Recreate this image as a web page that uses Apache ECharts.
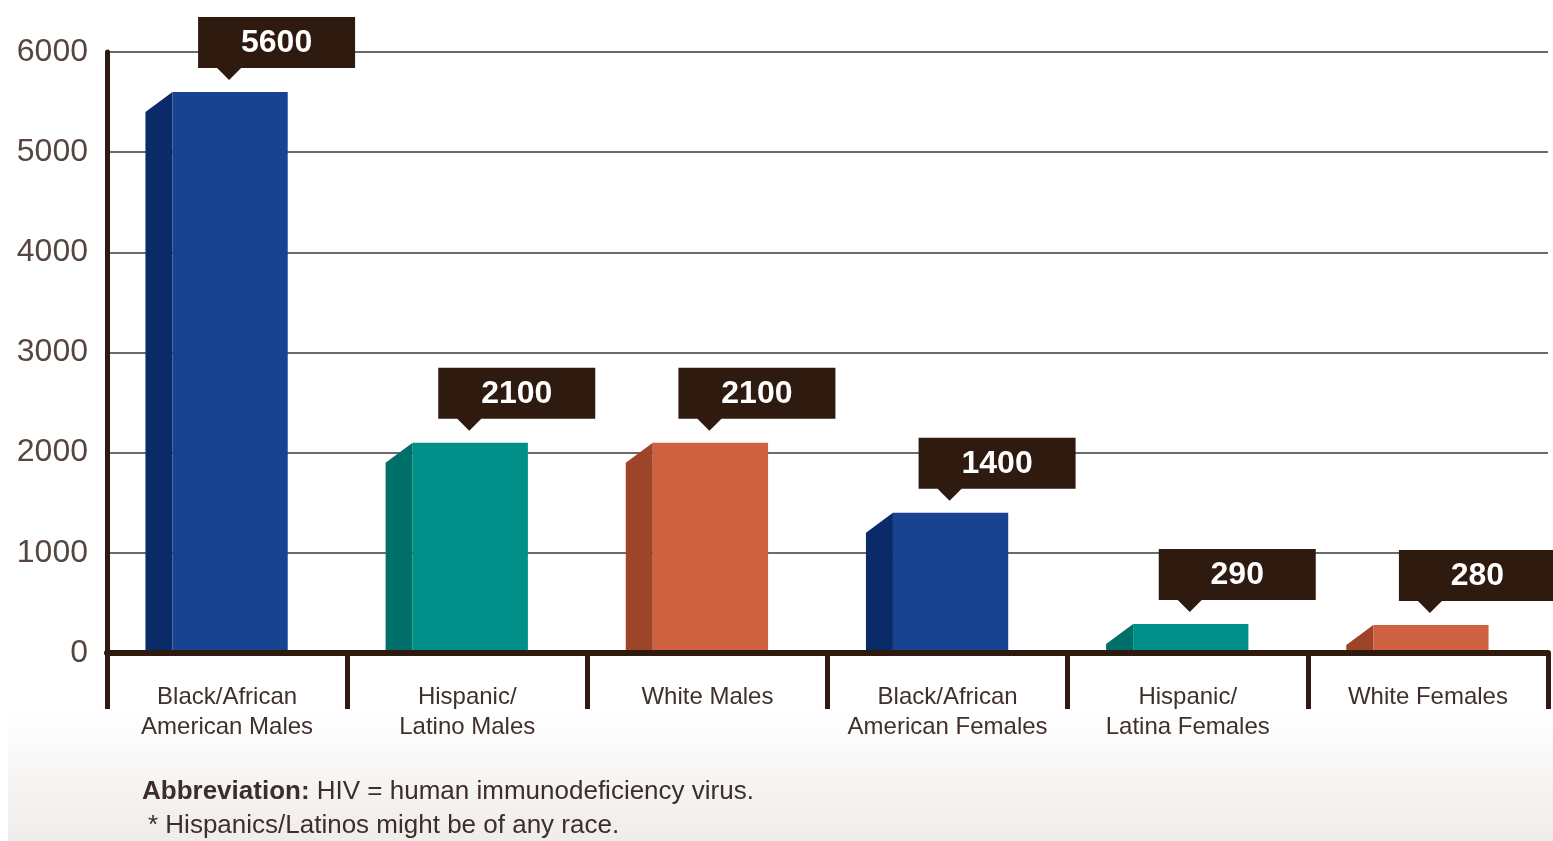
<!DOCTYPE html>
<html>
<head>
<meta charset="utf-8">
<script src="https://cdn.jsdelivr.net/npm/echarts@6/dist/echarts.min.js"></script>
<style>
  html, body { margin: 0; padding: 0; background: #fff; }
  #chart { width: 1553px; height: 841px; }
</style>
</head>
<body>
<div id="chart"></div>
<script>
// data
const categories = [
  'Black/African\nAmerican Males',
  'Hispanic/\nLatino Males',
  'White Males',
  'Black/African\nAmerican Females',
  'Hispanic/\nLatina Females',
  'White Females'
];
const values = [5600, 2100, 2100, 1400, 290, 280];
const yTicks = [0, 1000, 2000, 3000, 4000, 5000, 6000];

// front / side colours per bar
const frontColors = ['#174391', '#009089', '#d06140', '#174391', '#009089', '#d06140'];
const sideColors = ['#0b2a68', '#006e69', '#9e4529', '#0b2a68', '#006e69', '#9e4529'];

const BROWN = '#2f1a0f';
const chart = echarts.init(document.getElementById('chart'));

const barData = values.map((v, i) => [i, v]);

const renderBar = (params, api) => {
  const i = api.value(0);
  const top = api.coord([i, api.value(1)]);
  const base = api.coord([i, 0]);
  const bw = api.size([1, 0])[0];
  const fw = bw * 0.48;
  const cx = top[0] + 3;
  const x0 = cx - fw / 2;
  const sw = 27, drop = 20;
  return {
    type: 'group',
    children: [
      {
        type: 'polygon',
        shape: { points: [[x0, top[1]], [x0 - sw, top[1] + drop], [x0 - sw, base[1]], [x0, base[1]]] },
        style: { fill: sideColors[i] }
      },
      {
        type: 'rect',
        shape: { x: x0, y: top[1], width: fw, height: base[1] - top[1] },
        style: { fill: frontColors[i] }
      }
    ]
  };
};

const renderCallout = (params, api) => {
  const i = api.value(0);
  const top = api.coord([i, api.value(1)]);
  const cx = top[0] + 2;
  const bBottom = top[1] - 24;
  const bTop = bBottom - 51;
  const left = cx - 31, right = cx + 126;
  return {
    type: 'group',
    children: [
      {
        type: 'polygon',
        shape: {
          points: [[left, bTop], [right, bTop], [right, bBottom], [cx + 12, bBottom],
                   [cx, bBottom + 12], [cx - 12, bBottom], [left, bBottom]]
        },
        style: { fill: BROWN }
      },
      {
        type: 'text',
        style: {
          x: (left + right) / 2, y: (bTop + bBottom) / 2 + 1,
          text: String(api.value(1)),
          fill: '#fff', font: 'bold 32px "Liberation Sans", Arial, sans-serif',
          align: 'center', verticalAlign: 'middle'
        }
      }
    ]
  };
};

chart.setOption({
  backgroundColor: '#fff',
  animation: false,
  graphic: [
    {
      type: 'rect', left: 8, top: 712, z: -10,
      shape: { width: 1545, height: 129 },
      style: {
        fill: new echarts.graphic.LinearGradient(0, 0, 0, 1, [
          { offset: 0, color: '#ffffff' },
          { offset: 1, color: '#efecea' }
        ])
      }
    },
    {
      type: 'text', left: 142, top: 779,
      style: {
        text: '{b|Abbreviation:} HIV = human immunodeficiency virus.',
        font: '26px "Liberation Sans", sans-serif',
        fill: '#3d2e2a',
        rich: {
          b: { font: 'bold 26px "Liberation Sans", sans-serif', fill: '#3d2e2a' }
        }
      }
    },
    {
      type: 'text', left: 148, top: 813,
      style: {
        text: '* Hispanics/Latinos might be of any race.',
        font: '26px "Liberation Sans", sans-serif',
        fill: '#3d2e2a'
      }
    }
  ],
  grid: { left: 107, right: 5, top: 52, bottom: 188, containLabel: false },
  xAxis: {
    type: 'category',
    data: categories,
    boundaryGap: true,
    axisLine: { show: true, lineStyle: { color: BROWN, width: 6 } },
    axisTick: { show: true, length: 56, lineStyle: { color: BROWN, width: 5 } },
    axisLabel: {
      margin: 29,
      color: '#3f302b',
      fontSize: 24,
      lineHeight: 30,
      fontFamily: '"Liberation Sans", sans-serif',
      interval: 0
    },
    z: 10
  },
  yAxis: {
    type: 'value',
    min: yTicks[0],
    max: yTicks[yTicks.length - 1],
    interval: 1000,
    axisLine: { show: true, lineStyle: { color: BROWN, width: 5 } },
    axisTick: { show: false },
    splitLine: { show: true, lineStyle: { color: '#6a6a6a', width: 2 } },
    axisLabel: {
      margin: 19,
      color: '#55463f',
      fontSize: 32,
      fontFamily: '"Liberation Sans", Arial, sans-serif',
      formatter: (v) => String(v)
    }
  },
  series: [
    {
      type: 'custom',
      name: 'bars',
      renderItem: renderBar,
      encode: { x: 0, y: 1 },
      data: barData,
      z: 2
    },
    {
      type: 'custom',
      name: 'callouts',
      renderItem: renderCallout,
      encode: { x: 0, y: 1 },
      data: barData,
      clip: false,
      z: 5
    }
  ]
});
</script>
</body>
</html>
